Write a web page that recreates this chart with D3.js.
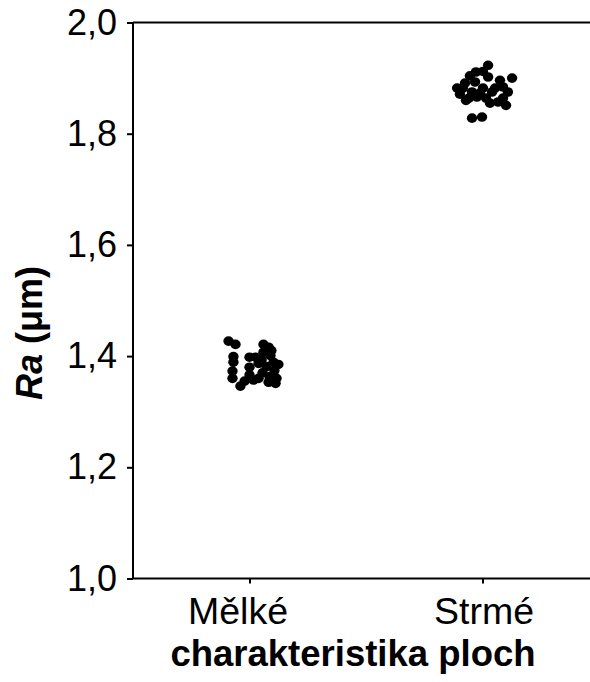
<!DOCTYPE html>
<html>
<head>
<meta charset="utf-8">
<script src="https://cdn.jsdelivr.net/npm/d3@7"></script>
<style>
  html, body { margin: 0; padding: 0; background: #fff; }
  svg text { font-family: "Liberation Sans", Arial, sans-serif; fill: #000; }
</style>
</head>
<body>
<div id="chart"></div>
<script>
// Ra values per surface type
var categories = ['Mělké', 'Strmé'];

var melkeValues = [
    1.427, 1.421, 1.399, 1.389, 1.373, 1.360, 1.346, 1.355, 1.398, 1.380,
    1.366, 1.398, 1.387, 1.421, 1.416, 1.407, 1.401, 1.389, 1.381, 1.374,
    1.370, 1.363, 1.360, 1.360, 1.351, 1.357, 1.353, 1.385, 1.393, 1.410
];
// horizontal jitter, as a fraction of the category step
var melkeJitter = [
    -0.090, -0.060, -0.069, -0.069, -0.073, -0.073, -0.039, -0.021, 0.000, 0.000,
    0.000, 0.026, 0.039, 0.060, 0.082, 0.060, 0.090, 0.103, 0.073, 0.107,
    0.056, 0.086, 0.116, 0.039, 0.112, 0.017, 0.082, 0.124, 0.052, 0.094
];

var strmeValues = [
    1.923, 1.911, 1.912, 1.904, 1.902, 1.900, 1.891, 1.893, 1.882, 1.882,
    1.882, 1.882, 1.884, 1.875, 1.871, 1.875, 1.873, 1.866, 1.864, 1.864,
    1.855, 1.857, 1.851, 1.828, 1.830, 1.875, 1.860, 1.864, 1.896
];
var strmeJitter = [
    0.024, -0.028, 0.002, -0.054, 0.024, 0.127, -0.075, -0.032, -0.109, -0.084,
    0.002, 0.054, 0.088, 0.109, -0.097, -0.045, -0.011, -0.024, -0.058, 0.088,
    0.032, 0.067, 0.101, -0.045, -0.002, 0.041, -0.071, 0.015, 0.075
];

var yTicks = [1.0, 1.2, 1.4, 1.6, 1.8, 2.0];

var width = 590, height = 682;
// plot box (note: "top" would clash with window.top)
var plotL = 133, plotR = 599, plotT = 22.5, plotB = 578.5;

var svg = d3.select('#chart').append('svg')
    .attr('width', width)
    .attr('height', height);

var x = d3.scalePoint().domain(categories).range([plotL, plotR]).padding(0.5);
var y = d3.scaleLinear().domain([1.0, 2.0]).range([plotB, plotT]);
var step = x.step();

var fmt = function (v) { return d3.format('.1f')(v).replace('.', ','); };

// --- Points ---
var points = [];
melkeValues.forEach(function (v, i) { points.push({ cat: 'Mělké', v: v, j: melkeJitter[i] }); });
strmeValues.forEach(function (v, i) { points.push({ cat: 'Strmé', v: v, j: strmeJitter[i] }); });

svg.append('g')
    .selectAll('ellipse')
    .data(points)
    .join('ellipse')
    .attr('cx', function (d) { return x(d.cat) + d.j * step; })
    .attr('cy', function (d) { return y(d.v); })
    .attr('rx', 5.2)
    .attr('ry', 4.8)
    .attr('fill', '#000');

// --- Axes ---
var yAxis = svg.append('g')
    .attr('transform', 'translate(' + plotL + ',0)')
    .call(d3.axisLeft(y).tickValues(yTicks).tickFormat(fmt).tickSize(6).tickPadding(10));
yAxis.select('.domain').attr('d', 'M0,' + plotT + 'V' + plotB);

var xAxis = svg.append('g')
    .attr('transform', 'translate(0,' + plotB + ')')
    .call(d3.axisBottom(x).tickSize(5).tickPadding(14));
xAxis.select('.domain').attr('d', 'M' + plotL + ',0H' + width);

// top frame line
svg.append('line')
    .attr('x1', plotL).attr('x2', width)
    .attr('y1', plotT).attr('y2', plotT)
    .attr('stroke', '#000').attr('stroke-width', 2);

svg.selectAll('.domain, .tick line')
    .attr('stroke', '#000')
    .attr('stroke-width', 2);

svg.selectAll('.tick text')
    .attr('font-family', '"Liberation Sans", Arial, sans-serif')
    .attr('fill', '#000');
yAxis.selectAll('.tick text').attr('font-size', 36);
xAxis.selectAll('.tick text')
    .attr('font-size', 37.5)
    .attr('dx', function (d, i) { return i === 0 ? -12 : 1; });

// --- Axis titles ---
svg.append('text')
    .attr('x', 353)
    .attr('y', 666)
    .attr('text-anchor', 'middle')
    .attr('font-size', 36.5)
    .attr('font-weight', 'bold')
    .text('charakteristika ploch');

var yt = svg.append('text')
    .attr('transform', 'translate(42,333) rotate(-90)')
    .attr('text-anchor', 'middle')
    .attr('font-size', 36)
    .attr('font-weight', 'bold');
yt.append('tspan').attr('font-style', 'italic').text('Ra');
yt.append('tspan').text(' (μm)');
</script>
</body>
</html>
